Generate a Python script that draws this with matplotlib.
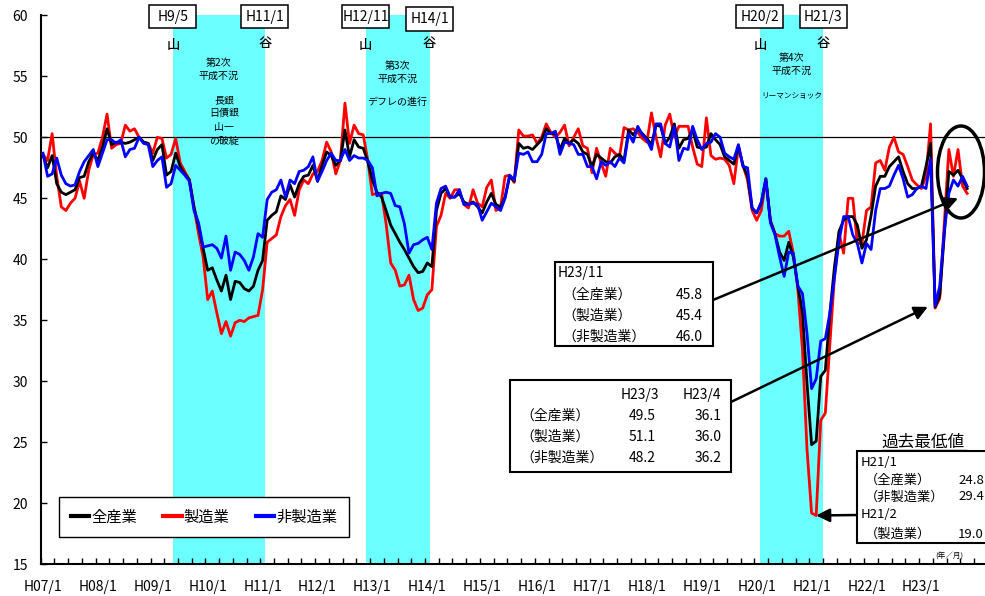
import matplotlib
matplotlib.use("Agg")
import matplotlib.pyplot as plt
from matplotlib.patches import Rectangle, Ellipse
from matplotlib.lines import Line2D

plt.rcParams['font.family'] = ['Noto Sans CJK JP', 'DejaVu Sans']

# monthly DI, H07/1 .. H23/11
zen = [48.5, 47.5, 48.5, 46.2, 45.5, 45.3, 45.5, 45.7, 46.7, 46.8,
       48.0, 48.7, 48.1, 49.2, 50.7, 49.4, 49.6, 49.6, 49.5, 49.6,
       49.8, 50.0, 49.6, 49.5, 48.1, 49.0, 49.4, 46.9, 47.2, 48.7,
       47.6, 47.0, 46.5, 44.3, 42.7, 40.9, 39.1, 39.3, 38.3, 37.4,
       38.7, 36.7, 38.2, 38.1, 37.6, 37.4, 37.8, 39.1, 39.9, 43.2,
       43.6, 43.9, 45.2, 44.9, 46.1, 45.1, 46.2, 46.8, 46.9, 47.7,
       46.4, 47.7, 48.8, 48.5, 47.7, 48.1, 50.6, 48.4, 49.8, 49.2,
       49.1, 48.0, 46.5, 45.5, 45.1, 44.0, 42.8, 42.1, 41.4, 40.8,
       40.1, 39.4, 38.9, 39.0, 39.7, 39.4, 44.0, 45.4, 45.8, 45.1,
       45.1, 45.4, 44.7, 44.5, 44.7, 44.3, 43.8, 44.7, 45.4, 44.5,
       44.3, 45.1, 46.8, 46.4, 49.5, 49.1, 49.2, 49.0, 49.4, 49.8,
       50.7, 50.3, 50.3, 49.0, 49.9, 49.5, 49.8, 49.5, 48.8, 48.6,
       47.6, 48.6, 48.3, 48.0, 47.9, 48.4, 48.6, 48.1, 50.6, 50.2,
       50.7, 50.3, 49.9, 49.4, 51.0, 50.9, 49.5, 50.0, 51.1, 49.1,
       49.8, 49.9, 50.6, 49.2, 49.1, 49.2, 50.3, 49.8, 49.4, 48.4,
       48.1, 47.8, 49.3, 47.7, 46.8, 44.2, 43.8, 44.6, 46.6, 43.1,
       42.1, 40.6, 39.9, 41.4, 40.2, 37.8, 35.6, 29.8, 24.8, 25.1,
       30.4, 30.9, 35.6, 39.4, 42.3, 43.2, 43.5, 43.5, 42.8, 40.9,
       41.6, 43.6, 46.0, 46.8, 46.8, 47.6, 48.0, 48.4, 47.2, 46.2,
       45.8, 45.8, 46.0, 47.6, 49.5, 36.1, 37.0, 42.0, 47.2, 46.9,
       47.3, 46.6, 45.8]

sei = [48.6, 48.1, 50.3, 46.8, 44.3, 44.0, 44.6, 45.0, 46.4, 45.0,
       47.3, 48.6, 48.7, 50.0, 51.9, 49.1, 49.4, 49.5, 51.0, 50.5,
       50.7, 50.0, 49.6, 49.5, 48.7, 50.0, 49.9, 48.3, 48.6, 49.9,
       47.9, 47.2, 46.5, 44.3, 42.1, 40.2, 36.7, 37.4, 35.6, 33.9,
       34.9, 33.7, 34.8, 35.0, 34.9, 35.2, 35.3, 35.4, 37.5, 41.4,
       41.7, 42.0, 43.5, 44.4, 44.9, 43.6, 45.7, 46.5, 46.2, 47.0,
       47.2, 48.1, 49.6, 48.8, 47.0, 48.1, 52.8, 49.5, 51.0, 50.3,
       50.2, 48.1, 45.3, 45.4, 45.4, 42.9, 39.7, 39.1, 37.8, 37.9,
       38.7, 36.7, 35.8, 36.0, 37.1, 37.5, 42.7, 43.6, 45.4, 45.0,
       45.7, 45.7, 44.5, 44.2, 45.7, 44.6, 44.3, 45.9, 46.5, 44.0,
       44.2, 46.8, 46.9, 46.3, 50.6, 50.1, 50.1, 50.2, 49.5, 50.0,
       51.1, 50.4, 50.0, 50.4, 51.0, 49.3, 50.0, 50.7, 49.3, 49.1,
       47.1, 49.1, 47.9, 46.8, 49.1, 48.7, 48.4, 50.8, 50.6, 50.7,
       50.4, 49.9, 49.6, 52.0, 50.0, 48.4, 51.0, 51.9, 50.0, 50.9,
       50.9, 50.9, 49.2, 47.8, 47.6, 51.6, 48.5, 48.2, 48.3, 48.2,
       47.7, 46.2, 49.2, 47.7, 46.5, 44.0, 43.2, 44.0, 46.5, 43.2,
       42.1, 41.9, 41.9, 42.3, 40.5, 37.5, 32.6, 24.4, 19.2, 19.0,
       26.8, 27.4, 33.1, 38.6, 42.1, 40.5, 45.0, 45.0, 41.3, 41.3,
       44.0, 44.3, 47.9, 48.1, 47.3, 49.2, 50.0, 48.8, 48.6, 47.6,
       46.5, 46.1, 45.8, 46.8, 51.1, 36.0, 36.8, 42.9, 49.0, 46.8,
       49.0, 46.0, 45.4]

hisei = [48.7, 46.8, 47.0, 48.3, 46.9, 46.2, 46.0, 46.1, 47.2, 48.0,
         48.5, 49.0, 47.6, 48.7, 49.8, 49.8, 49.5, 49.8, 48.4, 49.0,
         49.1, 50.0, 49.5, 49.4, 47.6, 48.1, 48.4, 45.9, 46.2, 47.7,
         47.3, 46.9, 46.4, 44.0, 43.0, 41.0, 41.1, 41.2, 40.9, 40.1,
         41.9, 39.1, 40.6, 40.4, 39.9, 39.1, 40.2, 42.1, 41.8, 44.9,
         45.5, 45.7, 46.5, 45.1, 46.5, 46.2, 47.2, 47.3, 47.6, 48.4,
         46.4, 47.2, 48.1, 48.7, 48.1, 48.1, 49.0, 48.1, 48.5, 48.3,
         48.3, 48.1, 47.5, 45.2, 45.4, 45.5, 45.4, 44.4, 44.3, 42.9,
         40.5, 41.2, 41.3, 41.6, 41.8, 40.8, 44.6, 45.8, 46.0, 45.1,
         45.1, 45.7, 44.5, 44.5, 44.6, 44.5, 43.2, 43.9, 44.6, 44.3,
         44.0, 45.0, 46.9, 46.5, 48.7, 48.6, 48.8, 48.0, 48.0, 48.6,
         50.3, 50.3, 50.5, 48.6, 49.6, 49.5, 49.4, 48.6, 48.6, 47.6,
         47.6, 46.6, 48.0, 47.7, 48.0, 47.6, 48.3, 47.9, 50.3, 49.6,
         50.9, 50.2, 49.8, 49.0, 51.1, 51.1, 49.5, 49.2, 50.9, 48.1,
         49.1, 49.0, 50.9, 49.8, 49.0, 49.5, 49.6, 50.3, 50.0, 48.7,
         48.4, 48.2, 49.4, 47.6, 47.5, 44.2, 43.8, 44.7, 46.6, 43.0,
         42.0, 40.2, 38.6, 40.6, 40.5, 37.8, 37.2, 33.9, 29.4, 30.2,
         33.3, 33.5, 35.6, 38.5, 41.5, 43.5, 43.5, 42.0, 41.3, 39.7,
         41.3, 40.8, 44.0, 45.8, 45.8, 46.0, 46.9, 47.7, 46.6, 45.1,
         45.3, 45.8, 46.0, 45.8, 48.2, 36.2, 37.8, 42.3, 45.4, 46.5,
         46.0, 46.8, 46.0]

year_labels = ['H%02d/1' % y for y in range(7, 24)]

# recession periods (month index from H07/1): 山 -> 谷
band_edges = [(28.4, 48.5), (70.5, 84.5), (156.7, 170.5)]
peak_labels = ['H9/5', 'H12/11', 'H20/2']
trough_labels = ['H11/1', 'H14/1', 'H21/3']
band_text1 = ['第2次\n平成不況', '第3次\n平成不況', '第4次\n平成不況']
band_text2 = ['長銀\n日債銀\n山一\nの破綻', 'デフレの進行', 'リーマンショック']

W, H = 985, 596


def fp(x, y):
    # pixel position -> figure fraction
    return (x / W, 1 - y / H)


fig = plt.figure(figsize=(W / 100, H / 100), dpi=100)
ax = fig.add_axes([40.7 / W, (H - 564.3) / H, (W - 40.7) / W, (564.3 - 15.3) / H])

x = list(range(len(zen)))
cyan = '#6CFFFF'
for (a, b) in band_edges:
    ax.axvspan(a, b, color=cyan, lw=0, zorder=0)
ax.axhline(50, color='k', lw=0.9, zorder=1)

ax.plot(x, zen, color='black', lw=2.0, label='全産業', zorder=4)
ax.plot(x, sei, color='#FF0000', lw=2.0, label='製造業', zorder=3)
ax.plot(x, hisei, color='#0000FF', lw=2.0, label='非製造業', zorder=5)

ax.set_xlim(-0.5, 205.9)
ax.set_ylim(15, 60)
ax.set_yticks(range(15, 61, 5))
ax.set_xticks(range(0, len(year_labels) * 12, 12))
ax.set_xticklabels(year_labels, fontsize=10)
ax.set_xticks([k * 3 - 0.5 for k in range(69)], minor=True)
ax.tick_params(axis='x', which='major', length=0, pad=11)
ax.tick_params(axis='x', which='minor', direction='in', length=4, width=1)
ax.tick_params(axis='y', direction='in', length=4, width=1, labelsize=10, pad=9)
for s in ['top', 'right']:
    ax.spines[s].set_visible(False)
ax.spines['left'].set_linewidth(1.5)
ax.spines['bottom'].set_linewidth(1.5)

# band annotations
text1_y = [55.6, 55.3, 55.95]
text2_y = [51.4, 52.9, 53.4]
text2_size = [7.2, 7.2, 5.5]
for k, ((a, b), pk, tr) in enumerate(zip(band_edges, peak_labels, trough_labels)):
    ax.text(a, 57.55, '山', ha='center', va='center', fontsize=9.5, fontweight='medium')
    ax.text(b, 57.7, '谷', ha='center', va='center', fontsize=9.5, fontweight='medium')
    for lab, xi in ((pk, a), (tr, b)):
        xp = ax.transData.transform((xi, 50))[0]
        yc = 19 if lab == 'H14/1' else 16.5
        fig.add_artist(Rectangle(fp(xp - 23.5, yc + 11.5), 47 / W, 23 / H,
                                 transform=fig.transFigure, fc='white', ec='black',
                                 lw=1.1, zorder=6))
        fig.text(xp / W, 1 - yc / H, lab, ha='center', va='center', fontsize=10, zorder=7)
    cx = (a + b) / 2
    ax.text(cx, text1_y[k], band_text1[k], ha='center', va='center', fontsize=7.2,
            linespacing=1.35)
    ax.text(cx + (1.2 if k == 0 else 0), text2_y[k], band_text2[k], ha='center',
            va='center', fontsize=text2_size[k], linespacing=1.45)

# legend
leg = ax.legend(loc='center', bbox_to_anchor=fp(204, 517), bbox_transform=fig.transFigure,
                ncol=3, fontsize=11, handlelength=1.2, handletextpad=0.15,
                columnspacing=1.7, borderpad=0.75, fancybox=False, framealpha=1,
                edgecolor='black')
leg.get_frame().set_linewidth(1.0)
for ln in leg.get_lines():
    ln.set_linewidth(3)


# value boxes
def box(x0, y0, x1, y1):
    fig.add_artist(Rectangle(fp(x0, y1), (x1 - x0) / W, (y1 - y0) / H,
                             transform=fig.transFigure, fc='white', ec='black',
                             lw=1.5, zorder=6))


def ftxt(x, y, s, ha='left', size=10):
    fig.text(x / W, 1 - y / H, s, ha=ha, va='center', fontsize=size, zorder=7)


box(555, 262, 713, 346)
ftxt(558, 273, 'H23/11')
for yy, lab, v in zip([295, 316, 337], ['（全産業）', '（製造業）', '（非製造業）'],
                      [zen[202], sei[202], hisei[202]]):
    ftxt(562, yy, lab)
    ftxt(703, yy, '%.1f' % v, ha='right')

box(510, 380, 731, 472)
ftxt(640, 395, 'H23/3', ha='center')
ftxt(702, 395, 'H23/4', ha='center')
for yy, lab, ser in zip([416, 437, 458], ['（全産業）', '（製造業）', '（非製造業）'],
                        [zen, sei, hisei]):
    ftxt(520, yy, lab)
    ftxt(656, yy, '%.1f' % ser[194], ha='right')
    ftxt(722, yy, '%.1f' % ser[195], ha='right')

box(857, 451, 995, 543)
ftxt(923, 442, '過去最低値', ha='center', size=12)
fig.add_artist(Line2D([882 / W, 966 / W], [1 - 450 / H, 1 - 450 / H], color='k', lw=1,
                      transform=fig.transFigure))
ftxt(861, 463, 'H21/1', size=9.5)
ftxt(865, 480, '（全産業）', size=9.5)
ftxt(984, 480, '%.1f' % zen[168], ha='right', size=9.5)
ftxt(865, 497, '（非製造業）', size=9.5)
ftxt(984, 497, '%.1f' % hisei[168], ha='right', size=9.5)
ftxt(861, 515, 'H21/2', size=9.5)
ftxt(865, 534, '（製造業）', size=9.5)
ftxt(984, 534, '%.1f' % sei[169], ha='right', size=9.5)

ftxt(949, 557, '(年／月)', ha='center', size=5.5)

# arrows
arr = dict(arrowstyle='-|>', color='black', lw=1.8, mutation_scale=20, shrinkA=0, shrinkB=0)
ax.annotate('', xy=(200.0, 45.0), xytext=fp(713, 300), textcoords='figure fraction',
            arrowprops=arr, zorder=8)
ax.annotate('', xy=(193.4, 36.1), xytext=fp(731, 402), textcoords='figure fraction',
            arrowprops=arr, zorder=8)
ax.annotate('', xy=(169, sei[169]), xytext=fp(857, 515), textcoords='figure fraction',
            arrowprops=arr, zorder=8)

fig.add_artist(Ellipse(fp(961, 172), 47 / W, 92 / H, transform=fig.transFigure,
                       fill=False, ec='black', lw=2.5))

fig.savefig('out.png', dpi=100)
